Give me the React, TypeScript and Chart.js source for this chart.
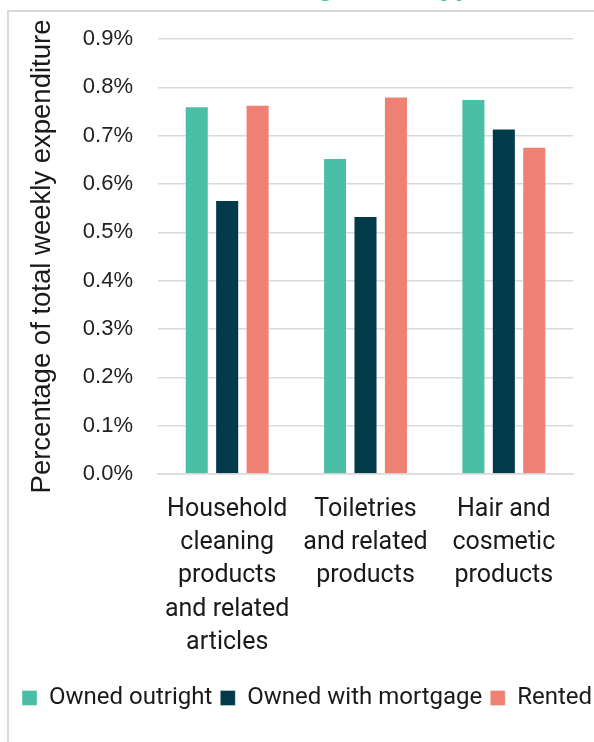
import React, { useEffect, useRef } from "react";
import { Chart, registerables } from "chart.js";

Chart.register(...registerables);

// Product groups (multi-line category labels)
const categories: string[][] = [
  ["Household", "cleaning", "products", "and related", "articles"],
  ["Toiletries", "and related", "products"],
  ["Hair and", "cosmetic", "products"],
];

// Share of total weekly expenditure, %
const ownedOutright = [0.761, 0.654, 0.776];
const ownedWithMortgage = [0.567, 0.534, 0.715];
const rented = [0.764, 0.781, 0.677];

const seriesNames = ["Owned outright", "Owned with mortgage", "Rented"];
const seriesColors = ["#4BBFA6", "#023A4B", "#EF8174"];

const yMin = 0;
const yMax = 0.9;
const yStep = 0.1;

const titleLines = ["Spending on household, toiletry and cosmetic goods by", "housing tenure type"];
const yAxisTitle = "Percentage of total weekly expenditure";

const CANVAS_W = 640;
const CANVAS_H = 742;
const PLOT_RIGHT = 573;

export default function App() {
  const canvasRef = useRef<HTMLCanvasElement | null>(null);

  useEffect(() => {
    if (!canvasRef.current) return;
    const values = [ownedOutright, ownedWithMortgage, rented];
    const chart = new Chart(canvasRef.current, {
      type: "bar",
      data: {
        labels: categories,
        datasets: seriesNames.map((name, i) => ({
          label: name,
          data: values[i],
          backgroundColor: seriesColors[i],
          borderColor: "rgba(255,255,255,0.35)",
          borderWidth: 1,
          categoryPercentage: 0.66,
          barPercentage: 0.79,
          yAxisID: "y",
        })),
      },
      options: {
        responsive: false,
        animation: false,
        devicePixelRatio: 1,
        layout: { padding: { left: 14, right: 0, top: 39, bottom: 22 } },
        plugins: {
          tooltip: { enabled: false },
          title: { display: false },
          legend: {
            position: "bottom",
            align: "start",
            labels: {
              boxWidth: 15,
              boxHeight: 15,
              padding: 8,
              color: "#1a1a1a",
              font: { family: "Roboto", size: 24 },
            },
          },
        },
        scales: {
          x: {
            grid: { display: false, drawTicks: false },
            border: { display: true, color: "#d9d9d9", width: 1.5 },
            ticks: {
              color: "#1a1a1a",
              padding: 19,
              maxRotation: 0,
              autoSkip: false,
              font: { family: "Roboto", size: 25, lineHeight: 1.33 },
            },
            afterFit: (scale: any) => {
              scale.height = 204;
            },
          },
          y: {
            position: "left",
            min: yMin,
            max: yMax,
            grid: { color: "#d9d9d9", lineWidth: 1.5, drawTicks: false },
            border: { display: false },
            ticks: {
              stepSize: yStep,
              padding: 25,
              color: "#222222",
              font: { family: "Liberation Sans", size: 22 },
              callback: (v: any) => Number(v).toFixed(1) + "%",
            },
            title: {
              display: true,
              text: yAxisTitle,
              color: "#1a1a1a",
              padding: { top: 12, bottom: 0 },
              font: { family: "Liberation Sans", size: 27.5 },
            },
            afterFit: (scale: any) => {
              scale.width = 158 - 14;
            },
          },
          yRight: {
            position: "right",
            display: true,
            grid: { display: false },
            border: { display: false },
            ticks: { display: false },
            afterFit: (scale: any) => {
              scale.width = CANVAS_W - PLOT_RIGHT;
            },
          },
        },
      },
    });
    return () => chart.destroy();
  }, []);

  return (
    <div
      style={{
        position: "absolute",
        left: 0,
        top: 0,
        width: 594,
        height: 742,
        overflow: "hidden",
        background: "#ffffff",
      }}
    >
      <div
        style={{
          position: "absolute",
          left: 0,
          width: 720,
          bottom: 741,
          textAlign: "center",
          color: "#4BBFA6",
          fontFamily: "Liberation Sans",
          fontWeight: 700,
          fontStyle: "italic",
          fontSize: 27,
          lineHeight: "30px",
          whiteSpace: "nowrap",
        }}
      >
        {titleLines.map((t, i) => (
          <div key={i}>{t}</div>
        ))}
      </div>
      <div
        style={{
          position: "absolute",
          left: 7,
          top: 10,
          right: -10,
          bottom: -10,
          borderLeft: "2px solid #d9d9d9",
          borderTop: "2px solid #d9d9d9",
        }}
      />
      <canvas
        ref={canvasRef}
        width={CANVAS_W}
        height={CANVAS_H}
        style={{ position: "absolute", left: 0, top: 0, width: CANVAS_W, height: CANVAS_H }}
      />
    </div>
  );
}
